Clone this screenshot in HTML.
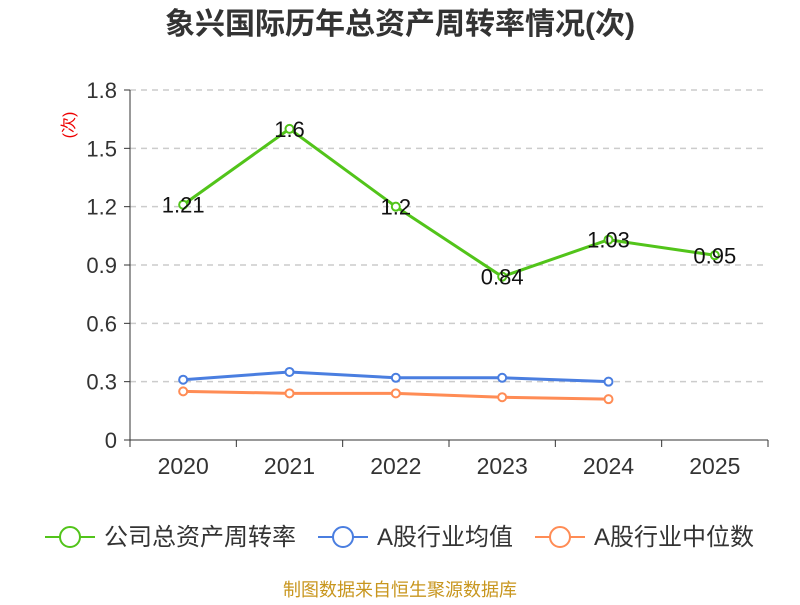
<!DOCTYPE html>
<html><head><meta charset="utf-8"><style>
body{margin:0;background:#fff;}
svg text{font-family:"Liberation Sans","Noto Sans CJK SC",sans-serif;}
</style></head><body>
<svg id="c" width="800" height="600" xmlns="http://www.w3.org/2000/svg">
<text x="400" y="34" text-anchor="middle" font-size="30" font-weight="bold" fill="#333">象兴国际历年总资产周转率情况(次)</text>
<text x="70" y="125" font-size="16" fill="#e00" transform="rotate(-90 70 125)" text-anchor="middle" dominant-baseline="middle">(次)</text>
<g id="grid"></g><g id="axes"></g><g id="series"></g>
<g>
<g><line x1="45" y1="537" x2="95" y2="537" stroke="#52c41a" stroke-width="2"/><circle cx="70" cy="537" r="10" fill="#fff" stroke="#52c41a" stroke-width="2"/><text x="104" y="545" font-size="24" fill="#333">公司总资产周转率</text></g>
<g><line x1="318" y1="537" x2="368" y2="537" stroke="#4a7ee0" stroke-width="2"/><circle cx="343" cy="537" r="10" fill="#fff" stroke="#4a7ee0" stroke-width="2"/><text x="377" y="545" font-size="24" fill="#333">A股行业均值</text></g>
<g><line x1="535" y1="537" x2="585" y2="537" stroke="#ff8c55" stroke-width="2"/><circle cx="560" cy="537" r="10" fill="#fff" stroke="#ff8c55" stroke-width="2"/><text x="594" y="545" font-size="24" fill="#333">A股行业中位数</text></g>
</g>
<text x="400" y="596" text-anchor="middle" font-size="18" fill="#c8961e">制图数据来自恒生聚源数据库</text>
</svg>
<script>
const categories=["2020","2021","2022","2023","2024","2025"];
const companyValues=[1.21,1.6,1.2,0.84,1.03,0.95];
const avgValues=[0.31,0.35,0.32,0.32,0.30];
const medianValues=[0.25,0.24,0.24,0.22,0.21];
const yTicks=[0,0.3,0.6,0.9,1.2,1.5,1.8];
const yTickLabels=["0","0.3","0.6","0.9","1.2","1.5","1.8"];
const NS="http://www.w3.org/2000/svg";
const x0=130,x1=768,y0=440,y1=90;
const bw=(x1-x0)/categories.length;
const X=i=>x0+bw*(i+0.5);
const Y=v=>y0-(v/1.8)*(y0-y1);
function mk(t,a,p){const e=document.createElementNS(NS,t);for(const k in a)e.setAttribute(k,a[k]);p.appendChild(e);return e;}
const grid=document.getElementById('grid'),axes=document.getElementById('axes'),ser=document.getElementById('series');
yTicks.forEach((v,i)=>{
 if(v>0){const g=mk('line',{x1:x0,x2:x1,y1:Y(v),y2:Y(v),stroke:'#ccc','stroke-width':1.5,'stroke-dasharray':'6,5'},grid);
 
 }
 const tk=mk('line',{x1:x0-6,x2:x0,y1:Y(v),y2:Y(v),stroke:'#333'},axes);
 
 
 const t=mk('text',{x:x0-13,y:Y(v)+8,'text-anchor':'end','font-size':22,fill:'#333'},axes);t.textContent=yTickLabels[i];
 
 
});
const ya=mk('line',{x1:x0,x2:x0,y1:y1,y2:y0,stroke:'#333'},axes);


const xa=mk('line',{x1:x0,x2:x1,y1:y0,y2:y0,stroke:'#333'},axes);


categories.forEach((c,i)=>{
 const tk=mk('line',{x1:x0+bw*i,x2:x0+bw*i,y1:y0,y2:y0+7,stroke:'#333'},axes);
 
 
 const t=mk('text',{x:X(i),y:y0+34,'text-anchor':'middle','font-size':23,fill:'#333'},axes);t.textContent=c;
 
 
});
const tk2=mk('line',{x1:x1,x2:x1,y1:y0,y2:y0+7,stroke:'#333'},axes);


function series(vals,color,name,labels){
 const p=mk('polyline',{points:vals.map((v,i)=>X(i)+','+Y(v)).join(' '),fill:'none',stroke:color,'stroke-width':3},ser);
 
 
 vals.forEach((v,i)=>{
  const c=mk('circle',{cx:X(i),cy:Y(v),r:4,fill:'#fff',stroke:color,'stroke-width':2},ser);
  
  
  if(labels){const t=mk('text',{x:X(i),y:Y(v)+8,'text-anchor':'middle','font-size':22,fill:'#111'},ser);t.textContent=String(v);
  
  }
 });
}
series(medianValues,'#ff8c55','industry-median',false);
series(avgValues,'#4a7ee0','industry-avg',false);
series(companyValues,'#52c41a','company',true);
</script>
</body></html>
